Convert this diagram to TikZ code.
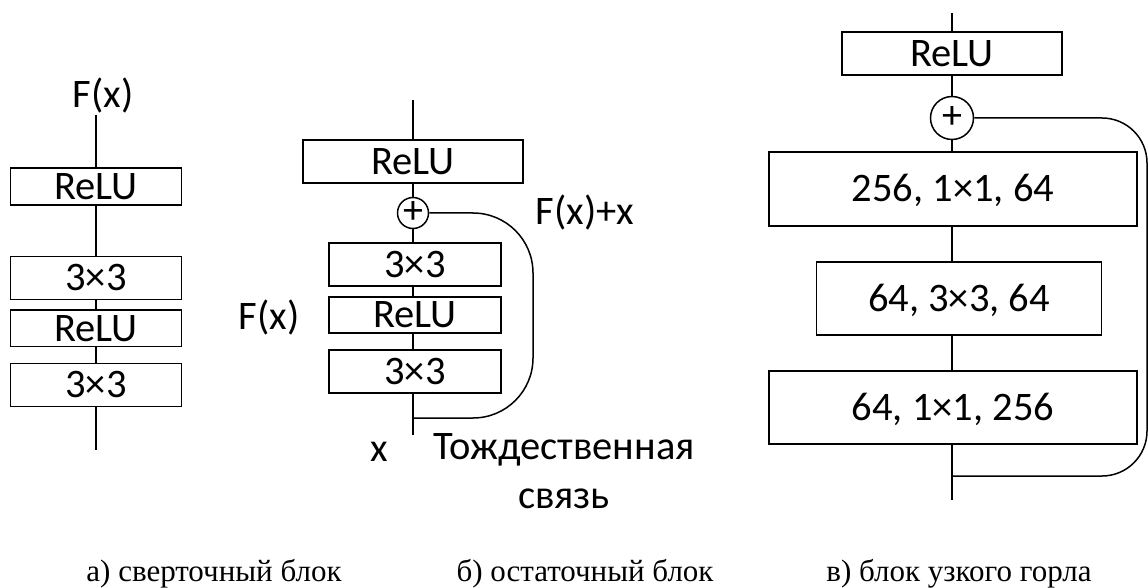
\documentclass[tikz,border=0pt]{standalone}
\usepackage{fontspec}
\setmainfont{Carlito}
\newfontfamily\capfont{Liberation Serif}
\begin{document}
\begin{tikzpicture}[x=1pt,y=-1pt,
  line width=1.5pt,
  lbl/.style={inner sep=0pt, font=\fontsize{40.5}{48}\selectfont},
  blk/.style={draw, fill=white, inner sep=0pt, text height=25.5pt, text depth=0pt,
              font=\fontsize{40.5}{48}\selectfont},
  sumnode/.style={draw, circle, fill=white, inner sep=0pt,
              text height=21pt, text depth=0pt, font=\fontsize{40}{46}\selectfont},
  captext/.style={inner sep=0pt, anchor=base, font=\capfont\fontsize{31}{36}\selectfont},
  wire/.style={line width=1.5pt}]
\useasboundingbox (0,0) rectangle (1148,588);

% --- (a) plain convolutional block ---
\coordinate (atop) at (96,115);
\coordinate (abot) at (96,450);
\node[lbl, anchor=base] (aout) at (103,108) {F(x)};
\node[blk, minimum width=171pt, minimum height=37pt]   (a1) at (96,186.6) {ReLU};
\node[blk, minimum width=171pt, minimum height=42.6pt] (a2) at (96,278)   {3×3};
\node[blk, minimum width=171pt, minimum height=36.7pt] (a3) at (96,328.3) {ReLU};
\node[blk, minimum width=171pt, minimum height=43.3pt] (a4) at (96,385)   {3×3};
\draw[wire] (atop) -- (a1.north);
\draw[wire] (a1.south) -- (a2.north);
\draw[wire] (a2.south) -- (a3.north);
\draw[wire] (a3.south) -- (a4.north);
\draw[wire] (a4.south) -- (abot);

% --- (b) residual block ---
\coordinate (btop) at (413,100);
\coordinate (bjoin) at (413,418);
\coordinate (bbot) at (413,435);
\node[blk, minimum width=220pt, minimum height=43pt] (b1) at (413,161.5) {ReLU};
\node[sumnode, minimum size=31pt] (bp) at (413,213) {+};
\node[blk, minimum width=172pt, minimum height=43pt] (b2) at (415,264.5) {3×3};
\node[blk, minimum width=172pt, minimum height=36pt] (b3) at (415,315)   {ReLU};
\node[blk, minimum width=172pt, minimum height=43pt] (b4) at (415,371.5) {3×3};
\coordinate (bne) at (533,213);
\coordinate (bse) at (533,418);
\draw[wire] (btop) -- (b1.north);
\draw[wire] (b1.south) -- (bp.north);
\draw[wire] (bp.south) -- (bp.south |- b2.north);
\draw[wire] (bp.south |- b2.south) -- (bp.south |- b3.north);
\draw[wire] (bp.south |- b3.south) -- (bp.south |- b4.north);
\draw[wire] (bp.south |- b4.south) -- (bbot);
\draw[wire, rounded corners=60pt] (bp.east) -- (bne) -- (bse) -- (bjoin);
\node[lbl, anchor=base] (bfx)  at (585,224) {F(x)+x};
\node[lbl, anchor=base] (bf)   at (269,329) {F(x)};
\node[lbl, anchor=base] (bx)   at (379,461) {x};
\node[lbl, anchor=base] (bid1) at (564,459) {Тождественная};
\node[lbl, anchor=base] (bid2) at (564,508) {связь};

% --- (c) bottleneck block ---
\coordinate (ctop) at (952,13);
\coordinate (cjoin) at (952,476);
\coordinate (cbot) at (952,500);
\node[blk, minimum width=220pt, minimum height=43pt] (c1) at (952,53.5) {ReLU};
\node[sumnode, minimum size=43pt] (cp) at (952,118) {+};
\node[blk, minimum width=368pt, minimum height=74pt] (c2) at (953,189)   {256, 1×1, 64};
\node[blk, minimum width=285pt, minimum height=73pt] (c3) at (959,298.5) {64, 3×3, 64};
\node[blk, minimum width=368pt, minimum height=73pt] (c4) at (953,407.5) {64, 1×1, 256};
\coordinate (cne) at (1147,118);
\coordinate (cse) at (1147,476);
\draw[wire] (ctop) -- (c1.north);
\draw[wire] (c1.south) -- (cp.north);
\draw[wire] (cp.south) -- (cp.south |- c2.north);
\draw[wire] (cp.south |- c2.south) -- (cp.south |- c3.north);
\draw[wire] (cp.south |- c3.south) -- (cp.south |- c4.north);
\draw[wire] (cp.south |- c4.south) -- (cbot);
\draw[wire, rounded corners=45pt] (cp.east) -- (cne) -- (cse) -- (cjoin);

% --- captions ---
\node[captext] (capa) at (214,581) {а) сверточный блок};
\node[captext] (capb) at (585,581) {б) остаточный блок};
\node[captext] (capc) at (959,581) {в) блок узкого горла};
\end{tikzpicture}
\end{document}
